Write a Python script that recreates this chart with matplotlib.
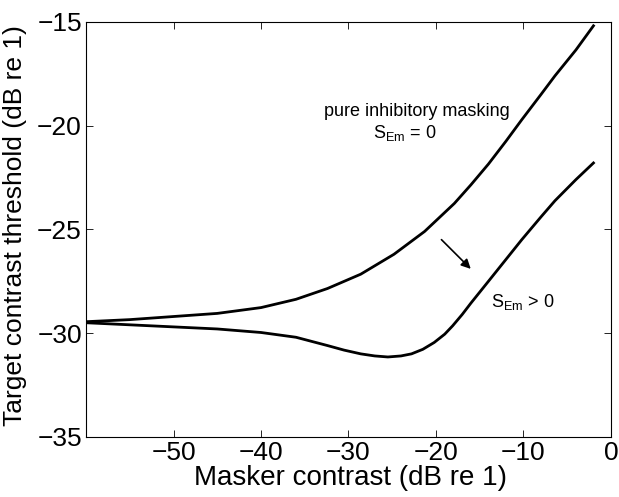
import numpy as np
import matplotlib
matplotlib.use("Agg")
import matplotlib.pyplot as plt

plt.rcParams['font.family'] = ['Liberation Sans', 'DejaVu Sans']
plt.rcParams['mathtext.default'] = 'regular'

# Masker contrast (dB re 1) and thresholds
masker_pure = [-60, -55, -50, -45, -40, -36, -32.4, -28.6, -24.8, -21.3,
               -17.9, -16, -14, -12, -10.2, -8, -6.4, -4, -2]
thresh_pure = [-29.45, -29.35, -29.2, -29.05, -28.77, -28.37, -27.85, -27.16,
               -26.2, -25.1, -23.75, -22.85, -21.85, -20.75, -19.72, -18.5,
               -17.6, -16.35, -15.19]

masker_exc = [-60, -55, -50, -45, -40, -36, -32.4, -30.5, -28.6, -27, -25.5,
              -24, -22.8, -21.5, -20.2, -19, -18.1, -17, -16, -14, -12.1,
              -10.2, -8, -6.4, -4, -2]
thresh_exc = [-29.5, -29.6, -29.7, -29.8, -29.97, -30.2, -30.6, -30.82,
              -31.0, -31.1, -31.15, -31.1, -31.0, -30.78, -30.45, -30.05,
              -29.65, -29.1, -28.55, -27.5, -26.5, -25.5, -24.4, -23.62,
              -22.6, -21.8]

xticks = [-50, -40, -30, -20, -10, 0]
yticks = [-35, -30, -25, -20, -15]

fig = plt.figure(figsize=(6.19, 4.97), dpi=100)
ax = fig.add_axes([0.139, 0.121, 0.848, 0.835])

ax.plot(masker_pure, thresh_pure, color='black', lw=2.0,
        solid_joinstyle='round')
ax.plot(masker_exc, thresh_exc, color='black', lw=2.0,
        solid_joinstyle='round')

ax.annotate('', xy=(-15.8, -27.0), xytext=(-19.6, -25.4),
            arrowprops=dict(arrowstyle='-|>', color='black', lw=1.2,
                            mutation_scale=14))

ax.text(-11.6, -19.52, 'pure inhibitory masking', fontsize=13,
        ha='right', va='baseline')
ax.text(-27.2, -20.58, r'S$_{Em}$ = 0', fontsize=13, ha='left', va='baseline')
ax.text(-13.67, -28.75, r'S$_{Em}$ > 0', fontsize=13, ha='left', va='baseline')

ax.set_xlim(-60, 0)
ax.set_ylim(-35, -15)
ax.set_xticks(xticks)
ax.set_yticks(yticks)
ax.set_xticklabels(['\u2212%d' % -t if t < 0 else str(t) for t in xticks])
ax.set_yticklabels(['\u2212%d' % -t for t in yticks])
ax.tick_params(direction='in', top=True, right=True, labelsize=19,
               length=5, width=0.6, pad=3)
for s in ax.spines.values():
    s.set_linewidth(0.8)

ax.set_xlabel('Masker contrast (dB re 1)', fontsize=20)
ax.xaxis.set_label_coords(0.503, -0.0675)
ax.set_ylabel('Target contrast threshold (dB re 1)', fontsize=19)
ax.yaxis.set_label_coords(-0.112, 0.51)

fig.savefig('out.png', dpi=100)
